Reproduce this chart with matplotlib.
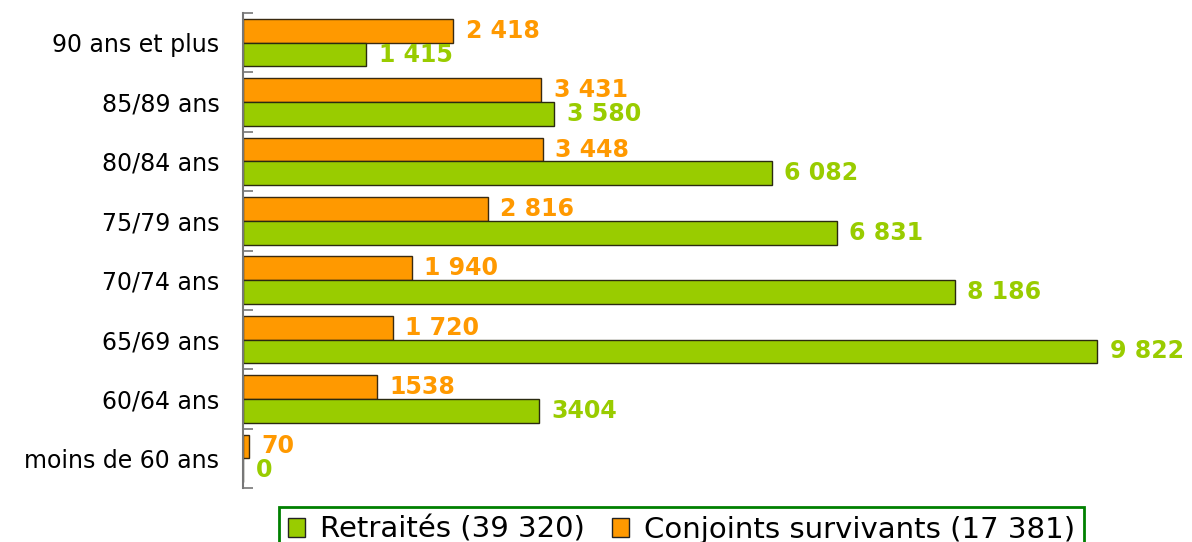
import matplotlib.pyplot as plt
from matplotlib.patches import Patch

# age groups, bottom to top
categories = ["moins de 60 ans", "60/64 ans", "65/69 ans", "70/74 ans",
              "75/79 ans", "80/84 ans", "85/89 ans", "90 ans et plus"]
retraites = [0, 3404, 9822, 8186, 6831, 6082, 3580, 1415]
conjoints = [70, 1538, 1720, 1940, 2816, 3448, 3431, 2418]
retraites_labels = ["0", "3404", "9 822", "8 186", "6 831", "6 082", "3 580", "1 415"]
conjoints_labels = ["70", "1538", "1 720", "1 940", "2 816", "3 448", "3 431", "2 418"]
legend_labels = ["Retraités (39 320)", "Conjoints survivants (17 381)"]

green = "#99CC00"
orange = "#FF9900"

plt.rcParams['font.family'] = ['DejaVu Sans']

fig = plt.figure(figsize=(11.92, 5.42), dpi=100)
ax = fig.add_axes([243 / 1192, 54 / 542, 913 / 1192, 475 / 542])

pos = list(range(len(categories)))
ax.barh([p + 0.2 for p in pos], conjoints, height=0.4, color=orange,
        edgecolor="#3a2a10", linewidth=1)
ax.barh([p - 0.2 for p in pos], retraites, height=0.4, color=green,
        edgecolor="#2a2a10", linewidth=1)

for p, v, s in zip(pos, conjoints, conjoints_labels):
    ax.annotate(s, (v, p + 0.2), xytext=(9, 0), textcoords="offset points",
                va="center", ha="left", fontsize=17, fontweight="bold", color=orange)
for p, v, s in zip(pos, retraites, retraites_labels):
    ax.annotate(s, (v, p - 0.2), xytext=(9, 0), textcoords="offset points",
                va="center", ha="left", fontsize=17, fontweight="bold", color=green)

ax.set_xlim(0, 10500)
ax.set_ylim(-0.5, len(categories) - 0.5)

# boundary ticks pointing inward, labels at category centres
ax.set_yticks([p - 0.5 for p in range(len(categories) + 1)])
ax.set_yticklabels([])
ax.tick_params(axis="y", which="major", direction="in", length=7, width=1.2, color="#777777")
ax.set_yticks(pos, minor=True)
ax.set_yticklabels(categories, minor=True, fontsize=17)
ax.tick_params(axis="y", which="minor", length=0, pad=17)
ax.set_xticks([])

for side in ["top", "right", "bottom"]:
    ax.spines[side].set_visible(False)
ax.spines["left"].set_color("#777777")
ax.spines["left"].set_linewidth(1.5)

handles = [Patch(facecolor=green, edgecolor="#222222", linewidth=1),
           Patch(facecolor=orange, edgecolor="#222222", linewidth=1)]
leg = fig.legend(handles, legend_labels, ncol=2, loc="upper center",
                 bbox_to_anchor=(681.5 / 1192, 35 / 542), fontsize=21,
                 handlelength=0.58, handleheight=0.58, handletextpad=0.5,
                 columnspacing=0.95, borderpad=0.3, fancybox=False,
                 frameon=True, borderaxespad=0)
leg.get_frame().set_edgecolor("#008000")
leg.get_frame().set_linewidth(2)
leg.get_frame().set_alpha(None)

fig.savefig("out.png", dpi=100)
